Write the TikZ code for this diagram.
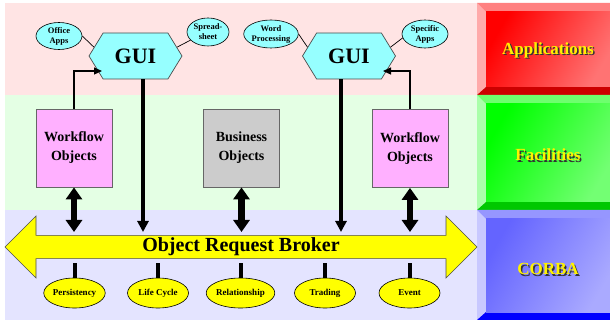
\documentclass[tikz,border=0pt]{standalone}
\usepackage{fontspec}
\setmainfont{Liberation Serif}
\usetikzlibrary{shapes.geometric,shapes.symbols,shapes.arrows,arrows.meta,calc}
\definecolor{bandpink}{RGB}{255,228,228}
\definecolor{bandgreen}{RGB}{228,255,228}
\definecolor{bandblue}{RGB}{228,228,255}
\definecolor{guicyan}{RGB}{150,255,255}
\definecolor{wfpink}{RGB}{255,176,255}
\definecolor{bogray}{RGB}{204,204,204}
\definecolor{orbyellow}{RGB}{255,255,0}
\definecolor{appface}{RGB}{255,0,0}
\definecolor{apptop}{RGB}{255,128,128}
\definecolor{appleft}{RGB}{255,170,170}
\definecolor{appdark}{RGB}{204,0,0}
\definecolor{facface}{RGB}{0,255,0}
\definecolor{factop}{RGB}{110,255,110}
\definecolor{facleft}{RGB}{170,255,170}
\definecolor{facdark}{RGB}{0,200,0}
\definecolor{corface}{RGB}{100,100,255}
\definecolor{cortop}{RGB}{150,150,255}
\definecolor{corleft}{RGB}{200,200,255}
\definecolor{cordark}{RGB}{0,0,255}
\newcommand\layerpanel[9]{%
  \fill[#5] (477,#1) -- (486,{#1+9}) -- (486,{#2-8}) -- (477,#2) -- cycle;
  \fill[#4] (477,#1) -- (612,#1) -- (612,{#1+9}) -- (486,{#1+9}) -- cycle;
  \fill[#6] (477,#2) -- (486,{#2-8}) -- (612,{#2-8}) -- (612,#2) -- cycle;
  \shade[left color=#3, right color=#3!55!white, shading angle=60] (486,{#1+9}) rectangle (612,{#2-8});
  \node[layershadow] (#9s) at (549.5,{#8+1.5}) {#7};
  \node[layerlabel] (#9) at (548,#8) {#7};
}
\begin{document}
\begin{tikzpicture}[x=1pt,y=-1pt,
  hexgui/.style={signal, signal to=west and east, signal pointer angle=117,
    fill=guicyan, draw=black!70, line width=0.7pt, minimum width=93pt, minimum height=46pt,
    inner sep=0pt, font=\fontsize{22}{24}\selectfont\bfseries},
  appell/.style={ellipse, fill=guicyan, draw=black, line width=0.6pt,
    minimum width=46pt, minimum height=27pt, inner sep=0pt, align=center,
    font=\fontsize{8.5}{10}\selectfont\bfseries},
  objbox/.style={rectangle, draw=black!60, line width=0.8pt, minimum width=76pt,
    minimum height=78pt, align=center, inner sep=0pt,
    font=\fontsize{14}{19}\selectfont\bfseries},
  svcell/.style={ellipse, fill=orbyellow, draw=black, line width=0.6pt,
    minimum width=61pt, minimum height=30pt, inner sep=0pt,
    font=\fontsize{9}{10}\selectfont\bfseries},
  orbshape/.style={double arrow, double arrow head extend=15.5pt,
    minimum height=472pt, minimum width=62pt, inner sep=0pt,
    fill=orbyellow, draw=black!70, line width=0.6pt,
    font=\fontsize{20}{22}\selectfont\bfseries},
  applink/.style={draw=black, line width=0.7pt},
  inlink/.style={draw=black, line width=1.2pt, -{Triangle[width=7pt,length=8pt]}},
  guiarrow/.style={draw=black, line width=3.5pt, -{Triangle[width=11pt,length=11pt]}},
  fatarrow/.style={draw=black, line width=6.5pt,
    {Triangle[width=16pt,length=12pt]}-{Triangle[width=16pt,length=12pt]}},
  svclink/.style={draw=black, line width=4pt},
  layerlabel/.style={font=\fontsize{17}{19}\selectfont\bfseries, text=yellow},
  layershadow/.style={font=\fontsize{17}{19}\selectfont\bfseries, text=black!80},
]
\useasboundingbox (0,0) rectangle (610,320);
% bands
\fill[bandpink] (5,3) rectangle (478,95);
\fill[bandgreen] (5,95) rectangle (478,210);
\fill[bandblue] (5,210) rectangle (478,320);
% right panel
\layerpanel{3}{95}{appface}{apptop}{appleft}{appdark}{Applications}{50}{lapp}
\layerpanel{95}{210}{facface}{factop}{facleft}{facdark}{Facilities}{155}{lfac}
\layerpanel{210}{320}{corface}{cortop}{corleft}{cordark}{CORBA}{269}{lcor}
% GUI layer
\node[hexgui] (hex1) at (135.5,56) {GUI};
\node[hexgui] (hex2) at (349,56) {GUI};
\node[appell] (oa) at (59,36) {Office\\Apps};
\node[appell, minimum width=42pt, minimum height=28pt] (ss) at (208,32) {Spread-\\sheet};
\node[appell, minimum height=28pt] (wp) at (271,34) {Word\\Processing};
\node[appell, minimum height=28pt] (sa) at (425,34) {Specific\\Apps};
\draw[applink] (oa.east) -- (hex1.168);
\draw[applink] (ss.205) -- (hex1.12);
\draw[applink] (wp.east) -- (hex2.168);
\draw[applink] (sa.190) -- (hex2.12);
% objects
\node[objbox, fill=wfpink] (wf1) at (74,148) {Workflow\\Objects};
\node[objbox, fill=bogray] (bo) at (241.5,148) {Business\\Objects};
\node[objbox, fill=wfpink] (wf2) at (410,148.5) {Workflow\\Objects};
% ORB
\node[orbshape] (orb) at (241,247) {Object Request Broker};
\coordinate (orbtop) at (241,232);
\coordinate (orbbot) at (241,263);
% services
\node[svcell] (per) at (74.5,293) {Persistency};
\node[svcell] (lc) at (158,293) {Life Cycle};
\node[svcell] (rel) at (240.5,293) {Relationship};
\node[svcell] (trd) at (325,293) {Trading};
\node[svcell] (evt) at (409.5,293) {Event};
% connectors
\coordinate (h1in) at (102,71);
\coordinate (h2in) at (383,71);
\draw[inlink] (wf1.north) |- (h1in);
\draw[inlink] (wf2.north) |- (h2in);
\coordinate (g1) at ($(hex1.south)+(7.5,0)$);
\coordinate (g2) at ($(hex2.south)+(-8,0)$);
\draw[guiarrow] (g1) -- (g1 |- orbtop);
\draw[guiarrow] (g2) -- (g2 |- orbtop);
\draw[fatarrow] (wf1.south) -- (wf1.south |- orbtop);
\draw[fatarrow] (bo.south) -- (bo.south |- orbtop);
\draw[fatarrow] (wf2.south) -- (wf2.south |- orbtop);
\foreach \s in {per,lc,rel,trd,evt}{
  \draw[svclink] (\s.north) -- (\s.north |- orbbot);
}
\end{tikzpicture}
\end{document}
